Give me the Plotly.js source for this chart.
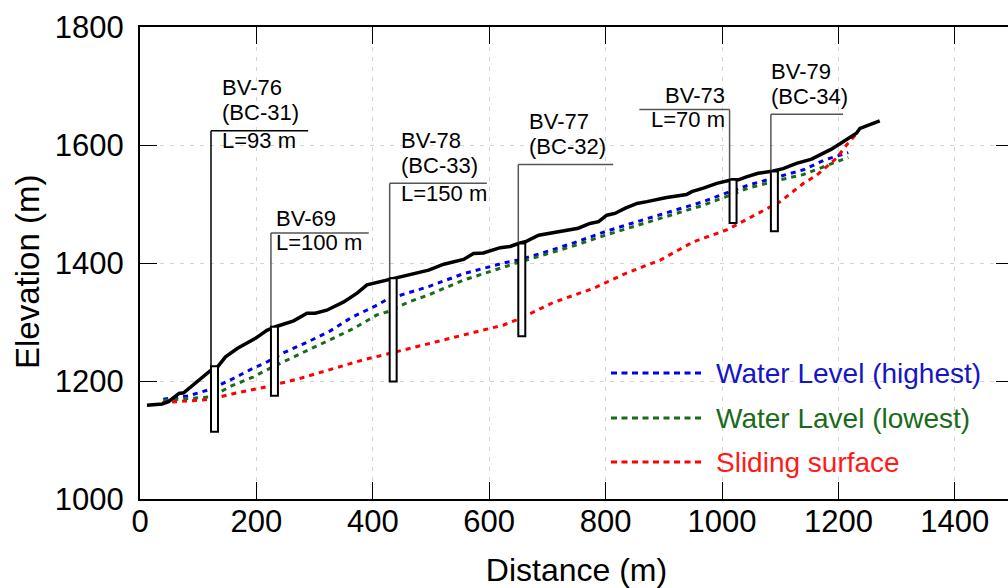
<!DOCTYPE html>
<html>
<head>
<meta charset="utf-8">
<script src="https://cdn.plot.ly/plotly-3.0.1.min.js"></script>
<style>
  html, body { margin: 0; padding: 0; background: #fff; overflow: hidden; }
  #chart { width: 1022px; height: 588px; }
</style>
</head>
<body>
<div id="chart"></div>
<script>
// ---- Ground surface profile ----
const groundX = [12, 38, 49, 67, 75, 104, 124, 134, 147, 167, 184, 201, 218, 233, 264, 287, 301, 321, 350, 373, 390, 407, 430, 482, 496, 522, 556, 573, 590, 619, 636, 650, 662, 685, 719, 753, 773, 788, 802, 816, 834, 854, 871, 905, 939, 948, 968, 991, 1017, 1028, 1042, 1062, 1088, 1105, 1128, 1154, 1188, 1208, 1231, 1237, 1248, 1271];
const groundY = [1159, 1161, 1165, 1179, 1180, 1203, 1220, 1225, 1241, 1255, 1264, 1274, 1286, 1292, 1302, 1315, 1315, 1320, 1334, 1349, 1363, 1367, 1373, 1385, 1388, 1398, 1406, 1416, 1417, 1426, 1428, 1433, 1436, 1447, 1453, 1459, 1467, 1470, 1481, 1484, 1493, 1501, 1504, 1511, 1516, 1521, 1527, 1535, 1541, 1541, 1546, 1552, 1556, 1560, 1569, 1576, 1593, 1606, 1620, 1628, 1632, 1641];

// ---- Water level (highest) ----
const highX = [40, 84, 121, 158, 195, 216, 247, 290, 327, 364, 404, 424, 459, 496, 556, 625, 650, 688, 745, 799, 854, 911, 968, 1008, 1045, 1100, 1140, 1177, 1217];
const highY = [1169, 1175, 1186, 1203, 1222, 1231, 1248, 1267, 1285, 1308, 1327, 1338, 1349, 1360, 1382, 1400, 1405, 1416, 1434, 1453, 1470, 1487, 1504, 1519, 1532, 1547, 1558, 1575, 1587];

// ---- Water level (lowest) ----
const lowX = [40, 101, 121, 158, 195, 216, 253, 290, 327, 367, 407, 424, 462, 496, 556, 625, 650, 688, 745, 799, 854, 911, 968, 1014, 1045, 1100, 1140, 1177, 1217];
const lowY = [1167, 1171, 1173, 1192, 1207, 1218, 1236, 1253, 1270, 1289, 1312, 1317, 1334, 1346, 1371, 1394, 1401, 1412, 1429, 1447, 1464, 1481, 1498, 1515, 1527, 1541, 1550, 1564, 1579];

// ---- Sliding surface ----
const slideX = [38, 84, 121, 158, 195, 216, 270, 327, 384, 430, 499, 625, 653, 710, 779, 836, 894, 951, 1008, 1062, 1100, 1140, 1163, 1197, 1214, 1231];
const slideY = [1163, 1167, 1169, 1178, 1186, 1190, 1203, 1219, 1236, 1247, 1264, 1295, 1306, 1333, 1357, 1383, 1405, 1436, 1456, 1484, 1504, 1535, 1549, 1578, 1600, 1619];

// ---- Boreholes ----
const boreNames  = ["BV-76", "BV-69", "BV-78", "BV-77", "BV-73", "BV-79"];
const boreAlt    = ["(BC-31)", "", "(BC-33)", "(BC-32)", "", "(BC-34)"];
const boreLength = ["L=93 m", "L=100 m", "L=150 m", "", "L=70 m", ""];
const boreX      = [128, 231, 435, 656, 1019, 1090];
const boreTop    = [1225, 1292, 1374, 1433, 1541, 1555];
const boreBottom = [1114, 1175, 1199, 1276, 1468, 1454];

// leader (callout) geometry for labels
const leaderTop  = [1624, 1451, 1535, 1567, 1660, 1652];
const leaderEnd  = [289, 393, 596, 813, 858, 1208];

// ---- Legend ----
const legendNames  = ["Water Level (highest)", "Water Lavel (lowest)", "Sliding surface"];
const legendColors = ["#0000ee", "#1a6b1a", "#ff0000"];
const legendText   = ["#1515c8", "#1a6b1a", "#ff1a1a"];

// ---- Axis titles / ticks ----
const xTitle = "Distance (m)";
const yTitle = "Elevation (m)";
const xTicks = [0, 200, 400, 600, 800, 1000, 1200, 1400];
const yTicks = [1000, 1200, 1400, 1600, 1800];

const FONT = '"Liberation Sans", Arial, Helvetica, sans-serif';
const HALF_W = 6; // half width of borehole rectangle (m)

const traces = [
  { x: highX, y: highY, mode: 'lines', line: { color: legendColors[0], width: 3, dash: '5px,5px' }, name: legendNames[0], showlegend: false },
  { x: lowX, y: lowY, mode: 'lines', line: { color: legendColors[1], width: 3, dash: '5px,5px' }, name: legendNames[1], showlegend: false },
  { x: slideX, y: slideY, mode: 'lines', line: { color: legendColors[2], width: 3, dash: '5px,5px' }, name: legendNames[2], showlegend: false },
  { x: groundX, y: groundY, mode: 'lines', line: { color: '#000', width: 3.5 }, name: 'Ground surface', showlegend: false }
];

const shapes = [];
const annotations = [];

boreX.forEach((bx, i) => {
  const lx = bx - HALF_W;
  shapes.push({ type: 'line', xref: 'x', yref: 'y', x0: lx, x1: lx, y0: boreTop[i], y1: leaderTop[i],
    line: { color: i === 0 ? '#000' : '#555', width: 1.5 }, layer: 'above' });
  shapes.push({ type: 'line', xref: 'x', yref: 'y', x0: lx, x1: leaderEnd[i], y0: leaderTop[i], y1: leaderTop[i],
    line: { color: i === 0 ? '#000' : '#555', width: 1.5 }, layer: 'above' });
  shapes.push({ type: 'rect', xref: 'x', yref: 'y', x0: bx - HALF_W, x1: bx + HALF_W, y0: boreBottom[i], y1: boreTop[i],
    line: { color: '#000', width: 2 }, fillcolor: '#fff', layer: 'above' });

  const rightAligned = leaderEnd[i] < lx;
  const xanchor = rightAligned ? 'right' : 'left';
  const xs = rightAligned ? -3 : (i === 5 ? -2 : (boreAlt[i] ? 9 : 3));
  const above = boreAlt[i] ? [boreNames[i], boreAlt[i]] : [boreNames[i]];
  const shifts = boreAlt[i] ? [43, 18] : [14];
  above.forEach((t, k) => {
    annotations.push({ x: lx, y: leaderTop[i], xref: 'x', yref: 'y', text: t, showarrow: false,
      xanchor: xanchor, yanchor: 'middle', xshift: xs, yshift: shifts[k],
      font: { family: FONT, size: 22, color: '#000' } });
  });
  if (boreLength[i]) {
    annotations.push({ x: lx, y: leaderTop[i], xref: 'x', yref: 'y', text: boreLength[i], showarrow: false,
      xanchor: xanchor, yanchor: 'middle', xshift: xs, yshift: -10,
      font: { family: FONT, size: 22, color: '#000' } });
  }
});

// custom legend (paper coords)
const legY = [373, 418, 462];
const PH = 472, PT = 27, PL = 140, PW = 873;
legendNames.forEach((n, i) => {
  const yp = 1 - (legY[i] - PT) / PH;
  shapes.push({ type: 'line', xref: 'paper', yref: 'paper', x0: (611 - PL) / PW, x1: (705 - PL) / PW, y0: yp, y1: yp,
    line: { color: legendColors[i], width: 3, dash: '6px,4.5px' } });
  annotations.push({ xref: 'paper', yref: 'paper', x: (714 - PL) / PW, y: yp, text: n, showarrow: false,
    xanchor: 'left', yanchor: 'middle', font: { family: FONT, size: 28, color: legendText[i] } });
});

// y-axis title placed as rotated text
annotations.push({ xref: 'paper', yref: 'paper', x: (27 - PL) / PW, y: 1 - (272 - PT) / PH, text: yTitle,
  textangle: -90, showarrow: false, xanchor: 'center', yanchor: 'middle',
  font: { family: FONT, size: 33, color: '#000' } });

const layout = {
  width: 1022, height: 588,
  margin: { l: 140, r: 9, t: 27, b: 89 },
  paper_bgcolor: '#fff', plot_bgcolor: '#fff',
  font: { family: FONT, color: '#000' },
  showlegend: false,
  xaxis: {
    range: [0, 1500], tickvals: xTicks,
    ticks: 'inside', ticklen: 17, tickwidth: 1, tickcolor: '#000',
    showline: true, linecolor: '#000', linewidth: 2, mirror: 'ticks',
    showgrid: true, gridcolor: '#d4d4d4', gridwidth: 1, griddash: '4px,6px',
    zeroline: false,
    tickfont: { family: FONT, size: 31, color: '#000' },
    ticklabelstandoff: -6,
    title: { text: xTitle, font: { family: FONT, size: 32, color: '#000' }, standoff: 20 }
  },
  yaxis: {
    range: [1000, 1800], tickvals: yTicks,
    ticks: 'inside', ticklen: 17, tickwidth: 1, tickcolor: '#000',
    showline: true, linecolor: '#000', linewidth: 2, mirror: 'ticks',
    showgrid: true, gridcolor: '#d4d4d4', gridwidth: 1, griddash: '4px,6px',
    zeroline: false,
    tickfont: { family: FONT, size: 31, color: '#000' },
    ticklabelstandoff: 8
  },
  shapes: shapes,
  annotations: annotations
};

Plotly.newPlot('chart', traces, layout, { displayModeBar: false, staticPlot: true });
</script>
</body>
</html>
